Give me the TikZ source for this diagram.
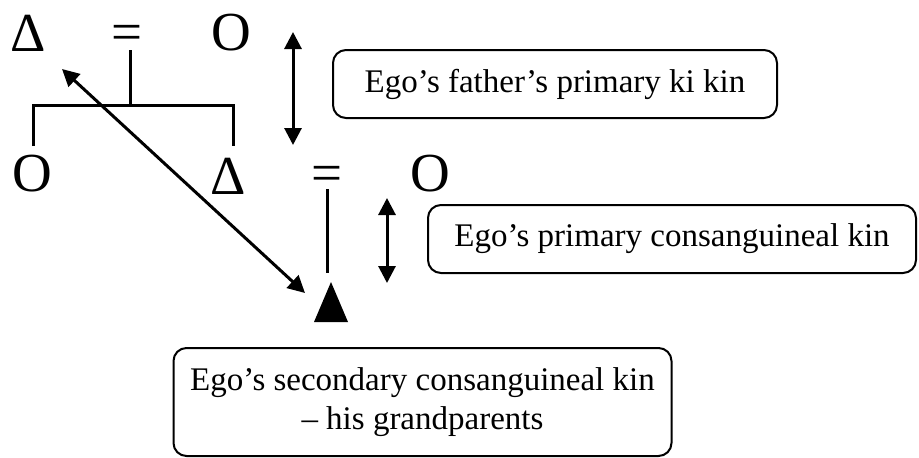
\documentclass[tikz,border=0pt]{standalone}
\usepackage{fontspec}
\setmainfont{Liberation Serif}
\usetikzlibrary{arrows.meta}
\begin{document}
\begin{tikzpicture}[x=1pt,y=-1pt,
  sym/.style={inner sep=0pt,font=\fontsize{55}{60}\selectfont},
  lbl/.style={draw,line width=2pt,rounded corners=13pt,align=center,inner sep=0pt,
    font=\fontsize{33}{39}\selectfont},
  ln/.style={line width=3pt},
  dbl/.style={line width=3pt,{Triangle[length=17pt,width=17pt]}-{Triangle[length=17pt,width=17pt]}}]
\useasboundingbox (0,0) rectangle (919,458);
% top generation
\node[sym] (d1) at (28,33) {Δ};
\node[sym] (e1) at (127,38) {=};
\node[sym] (o1) at (231,33) {O};
% second generation
\node[sym] (o2) at (32,174) {O};
\node[sym] (d2) at (228,176) {Δ};
\node[sym] (e2) at (327,179) {=};
\node[sym] (o3) at (430,174) {O};
% ego
\fill (331,282) -- (348,322) -- (314,322) -- cycle;
\coordinate (ego) at (331,302);
% descent lines
\coordinate (m1) at (130,50);
\coordinate (b1) at (130,105);
\coordinate (bl) at (33,105);
\coordinate (br) at (233,105);
\coordinate (bl2) at (33,146);
\coordinate (br2) at (233,146);
\draw[ln] (m1) -- (b1);
\draw[ln] (bl2) -- (bl) -- (br) -- (br2);
\coordinate (m2) at (327,189);
\coordinate (m2b) at (327,273);
\draw[ln] (m2) -- (m2b);
% arrows
\coordinate (a1t) at (293,32);
\coordinate (a1b) at (293,145);
\draw[dbl] (a1t) -- (a1b);
\coordinate (a2t) at (387,198);
\coordinate (a2b) at (387,283);
\draw[dbl] (a2t) -- (a2b);
\coordinate (dg1) at (62,69);
\coordinate (dg2) at (305,293);
\draw[dbl] (dg1) -- (dg2);
% labels
\node[lbl,minimum width=444pt,minimum height=68pt] (l1) at (555,84) {Ego’s father’s primary ki kin};
\node[lbl,minimum width=488pt,minimum height=68pt] (l2) at (672,239) {Ego’s primary consanguineal kin};
\node[lbl,minimum width=498pt,minimum height=108pt] (l3) at (422.5,402) {Ego’s secondary consanguineal kin\\– his grandparents};
\end{tikzpicture}
\end{document}
